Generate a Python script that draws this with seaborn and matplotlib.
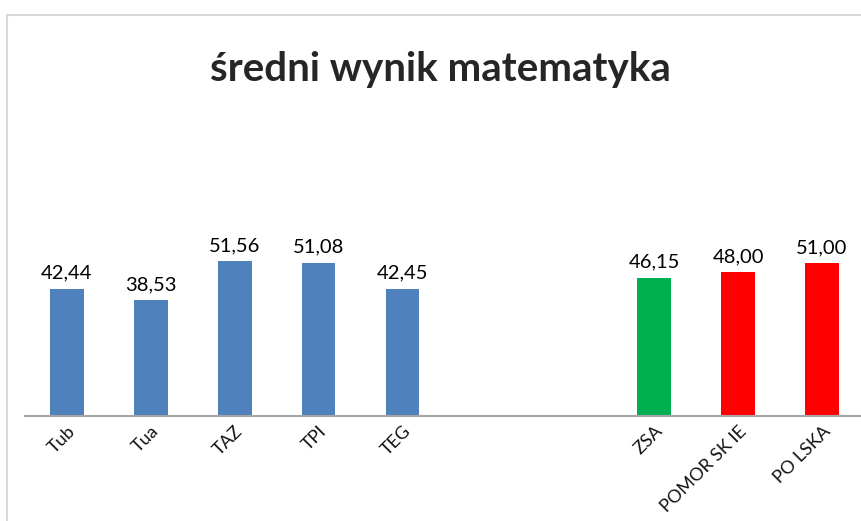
import numpy as np
import pandas as pd
import matplotlib.pyplot as plt
from matplotlib.patches import Rectangle
import seaborn as sns

# chart data (two empty slots between TEG and ZSA)
categories = ["Tub", "Tua", "TAZ", "TPI", "TEG", " ", "  ", "ZSA", "POMORSKIE", "POLSKA"]
tick_labels = ["Tub", "Tua", "TAZ", "TPI", "TEG", "", "", "ZSA", "POMOR SK IE", "PO LSKA"]
scores = [42.44, 38.53, 51.56, 51.08, 42.45, np.nan, np.nan, 46.15, 48.00, 51.00]
bar_colors = ["#4F81BD"] * 7 + ["#00B050", "#FF0000", "#FF0000"]

df = pd.DataFrame({"kategoria": categories, "wynik": scores})

sns.set_style("white")
plt.rcParams["font.family"] = ["Lato", "DejaVu Sans"]

fig = plt.figure(figsize=(8.61, 5.21), dpi=100)
W, H = 861, 521
# chart area border (cropped on right and bottom like the screenshot)
fig.patches.append(Rectangle((7 / W, -0.1), 1.0, (H - 15) / H + 0.1, transform=fig.transFigure,
                             fill=False, edgecolor="#d9d9d9", linewidth=1.5))

ax = fig.add_axes([25 / W, (H - 416) / H, 839 / W, 300 / H])
sns.barplot(data=df, x="kategoria", y="wynik", hue="kategoria", order=categories,
            hue_order=categories, palette=dict(zip(categories, bar_colors)),
            width=0.4, legend=False, saturation=1, ax=ax, linewidth=0)

ax.set_ylim(0, 100)
ax.set_xlim(-0.5, 9.5)
for i, v in enumerate(scores):
    if not np.isnan(v):
        ax.annotate(f"{v:.2f}".replace(".", ","), (i, v), xytext=(0, 5),
                    textcoords="offset points", ha="center", va="bottom",
                    fontsize=14.5, color="#000000")

ax.set_xticks(range(len(categories)))
ax.set_xticklabels(tick_labels, rotation=45, ha="right", rotation_mode="anchor",
                   fontsize=13, color="#111111")
ax.tick_params(axis="x", length=0, pad=5)
ax.set_yticks([])
ax.set_xlabel("")
ax.set_ylabel("")
for s in ["left", "right", "top"]:
    ax.spines[s].set_visible(False)
ax.spines["bottom"].set_color("#a6a6a6")
ax.spines["bottom"].set_linewidth(1.5)

fig.text(440 / W, 1 - 70 / H, "średni wynik matematyka", ha="center", va="center",
         fontsize=29, fontweight="bold")

fig.savefig("out.png", dpi=100)
